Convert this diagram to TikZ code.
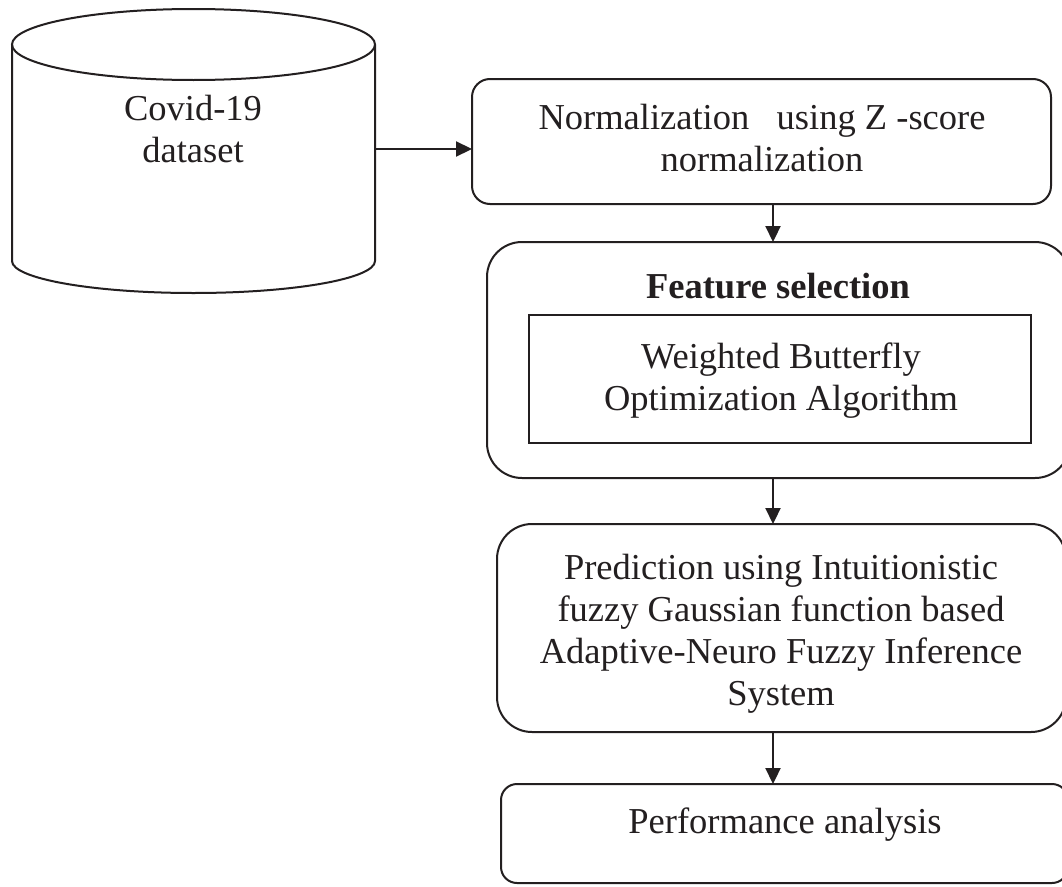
\documentclass[tikz,border=0pt]{standalone}
\usepackage{fontspec}
\setmainfont{Liberation Serif}
\usetikzlibrary{arrows.meta}
\definecolor{ink}{HTML}{231F20}
\tikzset{
  line/.style={draw=ink, line width=2pt},
  rbox/.style={line, rounded corners=#1, inner sep=0pt, outer sep=0pt},
  sbox/.style={line, inner sep=0pt, outer sep=0pt},
  ghost/.style={inner sep=0pt, outer sep=0pt},
  txt/.style={align=center, inner sep=0pt, text=ink, font=\fontsize{36.5}{42}\selectfont},
  btxt/.style={txt, font=\fontsize{36.5}{42}\selectfont\bfseries},
  arr/.style={draw=ink, line width=2.2pt, -{Triangle[length=16pt,width=15pt]}}
}
\begin{document}
\begin{tikzpicture}[x=1pt,y=-1pt]
\clip (0,0) rectangle (1062,886);
\fill[white] (0,0) rectangle (1062,886);

% database cylinder
\node[ghost, minimum width=363pt, minimum height=284pt] (db) at (193.5,151) {};
\draw[line] (193.5,44.5) ellipse [x radius=181.5, y radius=35.5];
\draw[line] (12,44.5) -- (12,261) arc[start angle=180, end angle=0, x radius=181.5, y radius=32] -- (375,44.5);
\node[txt] (dbtxt) at (193,129.3) {Covid-19\\dataset};

% boxes
\node[rbox=18pt, minimum width=579pt, minimum height=125pt] (norm) at (761.5,141.5) {};
\node[txt] (normtxt) at (762,137.6) {Normalization\ \ \ using Z -score\\normalization};

\node[rbox=35pt, minimum width=583pt, minimum height=236pt] (fs) at (778.5,360) {};
\node[btxt] (fstxt) at (778,286) {Feature selection};
\node[sbox, minimum width=502pt, minimum height=128pt] (wboa) at (780,379) {};
\node[txt] (wboatxt) at (781,381) {Weighted Butterfly\\Optimization Algorithm};

\node[rbox=35pt, minimum width=569pt, minimum height=208pt] (pred) at (781.5,628) {};
\node[txt] (predtxt) at (781,634) {Prediction using Intuitionistic\\fuzzy Gaussian function based\\Adaptive-Neuro Fuzzy Inference\\System};

\node[rbox=16pt, minimum width=567pt, minimum height=99pt] (perf) at (784.5,833.5) {};
\node[txt] (perftxt) at (785,824.5) {Performance analysis};

% connectors
\coordinate (dbout) at (375,149);
\coordinate (ax) at (773,0);
\draw[arr] (dbout) -- (dbout -| norm.west);
\draw[arr] (norm.south -| ax) -- (fs.north -| ax);
\draw[arr] (fs.south -| ax) -- (pred.north -| ax);
\draw[arr] (pred.south -| ax) -- (perf.north -| ax);
\end{tikzpicture}
\end{document}
